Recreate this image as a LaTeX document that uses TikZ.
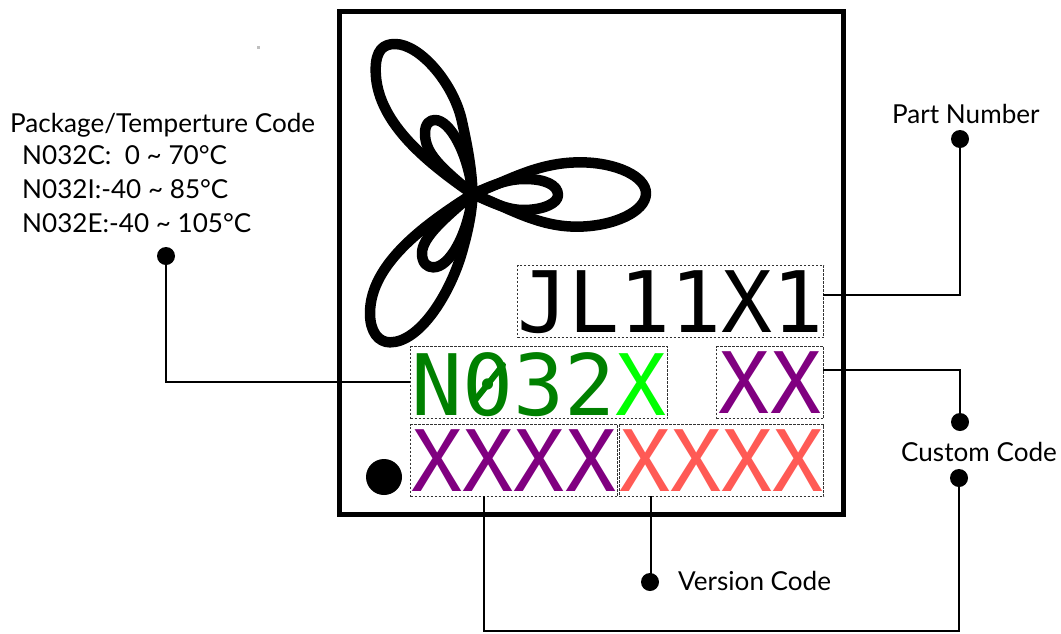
\documentclass[tikz,border=0pt]{standalone}
\usepackage{fontspec}
\setmainfont{Lato}
\newfontfamily\chipfont{DejaVu Sans Mono}
\definecolor{chipgreen}{RGB}{0,128,0}
\definecolor{chiplime}{RGB}{0,255,0}
\definecolor{chippurple}{RGB}{128,0,128}
\definecolor{chipred}{RGB}{255,90,85}
\begin{document}
\begin{tikzpicture}[x=1pt,y=-1pt,
  chipbox/.style={draw=black!80,line width=1pt,dash pattern=on 2.5pt off 1.5pt,inner sep=0pt,
    font=\chipfont\fontsize{84.8}{84.8}\selectfont,anchor=north west,minimum height=72pt,text height=#1,text depth=72pt-#1},
  pin/.style={circle,fill=black,inner sep=0pt,minimum size=18pt},
  conn/.style={draw=black,line width=1.4pt},
  label/.style={font=\fontsize{26.1}{26.1}\selectfont,anchor=base west,inner sep=0pt},
  petal/.style={draw=black,line width=10.5pt,line join=round}]
\useasboundingbox (0,0) rectangle (1061,633);
\fill[white] (0,0) rectangle (1061,633);
\node[draw=black,line width=5pt,minimum width=504pt,minimum height=503pt,inner sep=0pt,anchor=north west] (chip) at (337,9) {};
% logo
\begin{scope}[shift={(340,20)},x=0.33333pt,y=-0.33333pt]
\draw[petal] (398,522) .. controls (250,420) and (107,300) .. (107,150) .. controls (107,90) and (130,72) .. (165,72) .. controls (240,72) and (340,190) .. (365,300) .. controls (385,390) and (395,450) .. (398,522);
\draw[petal] (398,522) .. controls (300,440) and (255,400) .. (255,340) .. controls (255,310) and (270,300) .. (285,300) .. controls (330,300) and (385,400) .. (398,522);
\draw[petal] (398,522) .. controls (500,485) and (590,427) .. (720,427) .. controls (830,427) and (918,470) .. (918,520) .. controls (918,575) and (820,620) .. (710,620) .. controls (590,620) and (500,560) .. (398,522);
\draw[petal] (398,522) .. controls (460,495) and (500,477) .. (555,477) .. controls (615,477) and (654,495) .. (654,525) .. controls (654,550) and (610,570) .. (550,570) .. controls (500,570) and (450,545) .. (398,522);
\draw[petal] (398,522) .. controls (260,610) and (90,730) .. (90,880) .. controls (90,935) and (115,967) .. (150,967) .. controls (240,967) and (330,820) .. (365,700) .. controls (385,630) and (395,580) .. (398,522);
\draw[petal] (398,522) .. controls (320,590) and (246,650) .. (246,700) .. controls (246,730) and (262,742) .. (280,742) .. controls (330,742) and (385,640) .. (398,522);
\end{scope}
\node[circle,fill=black,inner sep=0pt,minimum size=36pt] (mark) at (384,477) {};
\fill[black!25] (257,46) rectangle (259.5,48.5);
% chip text
\node[chipbox=67pt,minimum width=306pt] (part) at (517,265) {JL11X1};
\node[chipbox=69pt,minimum width=257pt] (pkg) at (410,346) {\textcolor{chipgreen}{N032}\textcolor{chiplime}{X}};
\draw[chipgreen,line width=6pt,line cap=round] (476,399) -- (503,365);
\node[chipbox=66.5pt,minimum width=107pt] (cust) at (716,346) {\textcolor{chippurple}{XX}};
\node[chipbox=66.5pt,minimum width=207pt] (cust2) at (410,424) {\textcolor{chippurple}{XXXX}};
\node[chipbox=66.5pt,minimum width=204pt] (ver) at (619,424) {\textcolor{chipred}{XXXX}};
% pins
\node[pin] (partpin) at (960,139) {};
\node[pin] (custpin) at (960,422) {};
\node[pin] (custpinb) at (959,478) {};
\node[pin] (verpin) at (650,582) {};
\node[pin] (pkgpin) at (166,256) {};
% connector ends
\coordinate (partend) at (823,295);
\coordinate (custend) at (823,370);
\coordinate (pkgend) at (410,382);
\coordinate (cust2end) at (484,496);
\coordinate (verend) at (651,496);
\coordinate (bus) at (484,631);
\draw[conn] (partpin) |- (partend);
\draw[conn] (custpin) |- (custend);
\draw[conn] (pkgpin) |- (pkgend);
\draw[conn] (custpinb) |- (bus) -- (cust2end);
\draw[conn] (verpin -| verend) -- (verend);
% labels
\node[label] (t1) at (10,132) {Package/Temperture Code};
\node[label] (t2) at (22,164) {N032C:\ \ 0 \textasciitilde{} 70°C};
\node[label] (t3) at (22,198) {N032I:-40 \textasciitilde{} 85°C};
\node[label] (t4) at (22,232) {N032E:-40 \textasciitilde{} 105°C};
\node[label] (t5) at (892,123) {Part Number};
\node[label] (t6) at (901,461) {Custom Code};
\node[label] (t7) at (678,590) {Version Code};
\end{tikzpicture}
\end{document}
